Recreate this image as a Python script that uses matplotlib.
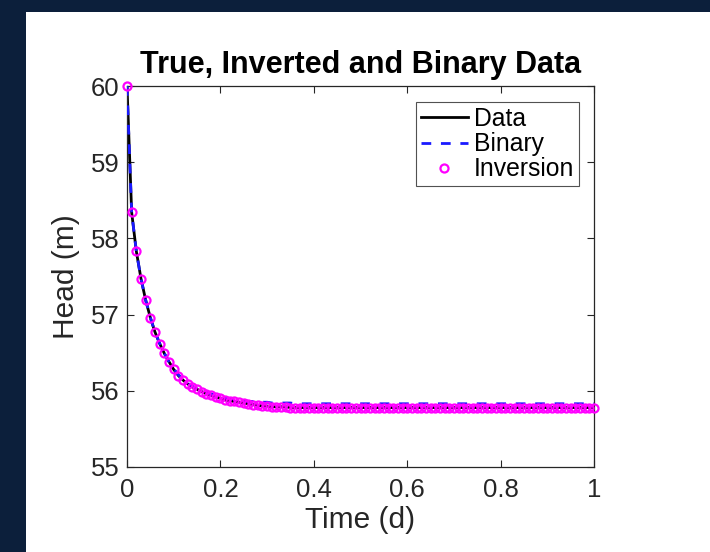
import numpy as np
import matplotlib
matplotlib.use("Agg")
import matplotlib.pyplot as plt
from matplotlib.patches import Rectangle

# Sample times (days) and heads (m)
time_d = np.round(np.arange(0, 101) * 0.01, 2)

true_head = [
    60.00, 58.34, 57.83, 57.47, 57.19, 56.96, 56.77, 56.62, 56.49, 56.38,
    56.28, 56.20, 56.14, 56.09, 56.05, 56.02, 55.99, 55.96, 55.94, 55.92,
    55.90, 55.88, 55.87, 55.86, 55.85, 55.84, 55.83, 55.82, 55.81, 55.80,
    55.80, 55.79, 55.79, 55.79, 55.79, 55.78, 55.78, 55.78, 55.78, 55.78,
] + [55.78] * 61

binary_head = [
    60.00, 58.34, 57.83, 57.47, 57.19, 56.96, 56.77, 56.62, 56.49, 56.38,
    56.29, 56.21, 56.15, 56.10, 56.06, 56.03, 56.00, 55.98, 55.96, 55.94,
    55.92, 55.91, 55.90, 55.89, 55.88, 55.87, 55.86, 55.86, 55.85, 55.85,
    55.85, 55.84, 55.84, 55.84, 55.84, 55.84, 55.83, 55.83, 55.83, 55.83,
] + [55.83] * 61

inverted_head = [
    60.00, 58.34, 57.83, 57.47, 57.19, 56.96, 56.77, 56.62, 56.49, 56.38,
    56.28, 56.20, 56.14, 56.09, 56.05, 56.02, 55.99, 55.96, 55.94, 55.92,
    55.90, 55.88, 55.87, 55.86, 55.85, 55.84, 55.83, 55.82, 55.81, 55.80,
    55.80, 55.79, 55.79, 55.79, 55.79, 55.78, 55.78, 55.78, 55.78, 55.78,
] + [55.78] * 61

x_ticks = [0, 0.2, 0.4, 0.6, 0.8, 1]
x_tick_labels = ["0", "0.2", "0.4", "0.6", "0.8", "1"]
y_ticks = [55, 56, 57, 58, 59, 60]

plt.rcParams["font.family"] = ["Liberation Sans", "DejaVu Sans"]
grey = "#262626"

fig = plt.figure(figsize=(7.10, 5.52), dpi=100)
fig.patch.set_facecolor("white")

# dark frame along the left and top edges
navy = "#0c1f3b"
fig.patches.append(Rectangle((0, 0), 26 / 710, 1, transform=fig.transFigure,
                             facecolor=navy, edgecolor="none", zorder=0))
fig.patches.append(Rectangle((0, 1 - 12 / 552), 1, 12 / 552, transform=fig.transFigure,
                             facecolor=navy, edgecolor="none", zorder=0))

ax = fig.add_axes([127 / 710, 1 - 467 / 552, 467 / 710, 381 / 552])

ax.plot(time_d, true_head, color="black", lw=2.0, label="Data", zorder=2)
ax.plot(time_d, binary_head, color="#1a1aff", lw=2.0, ls=(0, (3.5, 3.5)),
        label="Binary", zorder=3)
ax.plot(time_d, inverted_head, ls="none", marker="o", ms=5.8, mfc="none",
        mec="#ff00ff", mew=1.6, label="Inversion", zorder=4, clip_on=False)

ax.set_xlim(0, 1)
ax.set_ylim(55, 60)
ax.set_xticks(x_ticks)
ax.set_xticklabels(x_tick_labels)
ax.set_yticks(y_ticks)

ax.tick_params(direction="in", length=5, width=0.8, colors=grey,
               labelsize=18.5, top=True, right=True)
ax.tick_params(axis="x", pad=8)
ax.tick_params(axis="y", pad=5.5)
for s in ax.spines.values():
    s.set_color(grey)
    s.set_linewidth(0.9)

ax.set_xlabel("Time (d)", fontsize=21.5, color=grey, labelpad=3)
ax.set_ylabel("Head (m)", fontsize=21.5, color=grey, labelpad=7.5)
ax.set_title("True, Inverted and Binary Data", fontsize=22,
             fontweight="bold", color="black", pad=9)

leg = ax.legend(loc="upper right", bbox_to_anchor=(1 - 15 / 467, 1 - 16 / 381),
                fontsize=17.8, frameon=True, fancybox=False,
                handlelength=1.9, handletextpad=0.25, labelspacing=0.05,
                borderpad=0.2, borderaxespad=0.0, numpoints=1)
leg.get_frame().set_edgecolor(grey)
leg.get_frame().set_linewidth(0.8)

fig.savefig("out.png", dpi=100)
